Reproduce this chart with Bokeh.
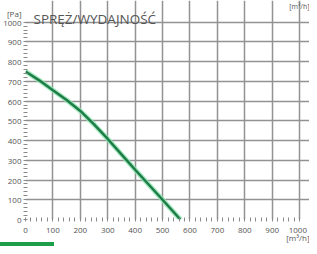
from bokeh.plotting import figure
from bokeh.models import FixedTicker, Label, Range1d, Div
from bokeh.layouts import column
from bokeh.embed import file_html
from bokeh.resources import INLINE

# data
airflow = [0, 50, 100, 150, 200, 250, 300, 350, 400, 450, 500, 565]
pressure = [750, 705, 655, 605, 550, 482, 408, 330, 252, 176, 100, 0]
x_ticks = [0, 100, 200, 300, 400, 500, 600, 700, 800, 900, 1000]
y_ticks = [0, 100, 200, 300, 400, 500, 600, 700, 800, 900, 1000]
title_text = "SPRĘŻ/WYDAJNOŚĆ"
y_unit = "[Pa]"
x_unit = "[m³/h]"

FONT = "Open Sans"
GREY = "#555555"

# geometry: frame reaches the canvas top and right edge; data 0..1000 sits inside
W, H = 309, 246
LEFT, BOTTOM = 21, 23            # axis panels
FRAME_W, FRAME_H = W - LEFT, H - BOTTOM
X1000_PX = 299 - LEFT            # frame px of x = 1000
Y1000_PX = 22                    # frame px (from top) of y = 1000
x_end = 1000 * FRAME_W / X1000_PX
y_end = 1000 * FRAME_H / (FRAME_H - Y1000_PX)
unit_tick = 1000 + 8.5 * y_end / FRAME_H   # "[Pa]" just above the 1000 label

p = figure(width=W, height=H, x_range=Range1d(0, x_end), y_range=Range1d(0, y_end),
           output_backend="svg", toolbar_location=None,
           min_border_left=LEFT, min_border_bottom=BOTTOM,
           min_border_top=0, min_border_right=0)
p.background_fill_color = "white"
p.border_fill_color = "white"
p.outline_line_color = None

minor = list(range(0, 1001, 20))
p.xaxis.ticker = FixedTicker(ticks=x_ticks, minor_ticks=minor)
p.yaxis.ticker = FixedTicker(ticks=y_ticks + [unit_tick], minor_ticks=minor)
p.xaxis.major_label_overrides = {1000: "1000\n" + x_unit}
p.yaxis.major_label_overrides = {unit_tick: y_unit}
for ax in (p.xaxis[0], p.yaxis[0]):
    ax.axis_line_color = None
    ax.major_tick_line_color = None
    ax.major_tick_in = 0
    ax.major_tick_out = 1
    ax.minor_tick_line_color = "#8a8a8a"
    ax.minor_tick_in = 2
    ax.minor_tick_out = 2
    ax.major_label_text_font = FONT
    ax.major_label_text_font_size = "8px"
    ax.major_label_text_color = GREY
    ax.major_label_standoff = 2
p.xaxis.major_label_text_line_height = 0.8

p.xgrid.ticker = FixedTicker(ticks=x_ticks)
p.ygrid.ticker = FixedTicker(ticks=y_ticks)
p.xgrid.bounds = (0, 1000)
p.ygrid.bounds = (0, 1000)
p.grid.grid_line_color = "#929292"
p.grid.grid_line_width = 1.5

# curve: light halo + dark green line
p.line(airflow, pressure, line_color="#8fe3b2", line_width=5, line_alpha=0.8)
p.line(airflow, pressure, line_color="#1e7d47", line_width=2.5)

# title and the unit of the chart above (both inside the frame area)
p.add_layout(Label(x=33, y=18.5, x_units="canvas", y_units="canvas", text=title_text,
                   text_font=FONT, text_font_size="13.5px", text_color=GREY,
                   text_baseline="alphabetic"))
p.add_layout(Label(x=309, y=6, x_units="canvas", y_units="canvas", text=x_unit,
                   text_font=FONT, text_font_size="7px", text_color=GREY,
                   text_align="right", text_baseline="alphabetic"))

# green bar at bottom-left (start of the next section)
bar = Div(text="", width=54, height=4, margin=(-4, 0, 0, 0),
          styles={"background-color": "#1f9e4a"})

layout = column(p, bar, spacing=0)
open("out.html", "w").write(file_html(layout, INLINE))
